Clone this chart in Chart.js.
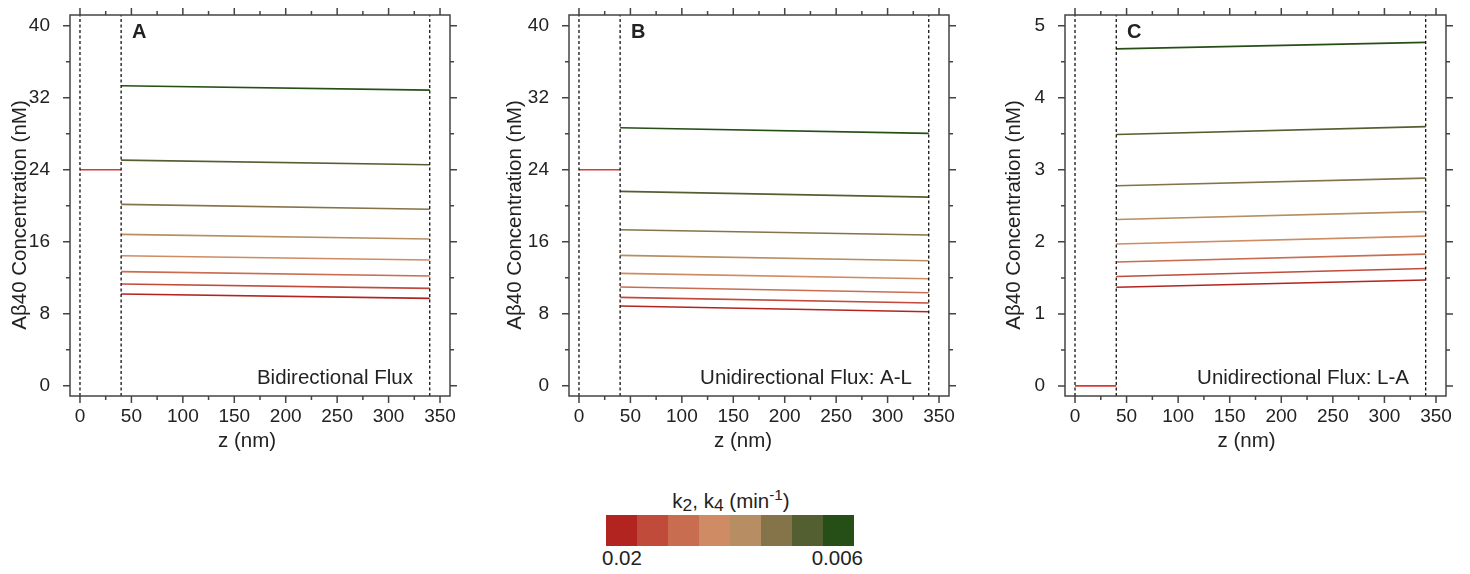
<!DOCTYPE html>
<html>
<head>
<meta charset="utf-8">
<script src="https://cdn.jsdelivr.net/npm/chart.js@4.4.1/dist/chart.umd.min.js"></script>
<style>
  body { margin: 0; background: #fff; width: 1470px; height: 574px; position: relative; overflow: hidden;
         font-family: "Liberation Sans", Arial, sans-serif; color: #222; }
  .panel { position: absolute; top: 0; }
  #tituloBarra { position: absolute; left: 631px; width: 200px; top: 489px; text-align: center; font-size: 20.5px; line-height: 24px; }
  #tituloBarra sub { font-size: 0.85em; vertical-align: -0.2em; line-height: 0; }
  #tituloBarra sup { font-size: 0.75em; vertical-align: 0.55em; line-height: 0; }
  #barra { position: absolute; left: 606px; top: 515px; width: 248px; height: 31px; display: flex; }
  #barra div { flex: 1; }
  .etiquetaBarra { position: absolute; top: 546px; font-size: 20.5px; line-height: 24px; }
</style>
</head>
<body>
<canvas id="chartA" class="panel" width="470" height="460" style="left:0px"></canvas>
<canvas id="chartB" class="panel" width="470" height="460" style="left:499px"></canvas>
<canvas id="chartC" class="panel" width="471" height="460" style="left:995px"></canvas>

<div id="tituloBarra">k<sub>2</sub>, k<sub>4</sub> (min<sup>-1</sup>)</div>
<div id="barra"></div>
<div class="etiquetaBarra" id="kMin" style="left:602px">0.02</div>
<div class="etiquetaBarra" id="kMax" style="right:607px">0.006</div>

<script>
// Posiciones z (nm): espacio libre 0-40, perfil 40-340
const zEspacio = [0, 40];
const zPerfil = [40, 340];
const zLimites = [0, 40, 340];

// Ticks
const ticksZ = [0, 50, 100, 150, 200, 250, 300, 350];
const ticksMenoresZ = [0, 25, 50, 75, 100, 125, 150, 175, 200, 225, 250, 275, 300, 325, 350];
const ticksConcAB = [0, 8, 16, 24, 32, 40];
const ticksMenoresAB = [0, 4, 8, 12, 16, 20, 24, 28, 32, 36, 40];
const ticksConcC = [0, 1, 2, 3, 4, 5];
const ticksMenoresC = [0, 0.5, 1, 1.5, 2, 2.5, 3, 3.5, 4, 4.5, 5];

// Colores de k2, k4 (de 0.02 a 0.006)
const coloresK = ['#B22420', '#C04B3B', '#C96D50', '#CF8B64', '#B78E63', '#857349', '#545F31', '#264F18'];
const etiquetasK = ['0.02', '0.006'];

// Concentración (nM) en z = 40 y z = 340, de k = 0.02 a k = 0.006
const inicioA = [10.19, 11.3, 12.67, 14.44, 16.81, 20.15, 25.07, 33.33];
const finA = [9.7, 10.81, 12.19, 13.96, 16.3, 19.6, 24.56, 32.85];
const inicioB = [8.85, 9.81, 10.96, 12.48, 14.48, 17.33, 21.6, 28.67];
const finB = [8.22, 9.19, 10.33, 11.89, 13.89, 16.74, 20.96, 28.04];
const inicioC = [1.37, 1.52, 1.72, 1.97, 2.31, 2.78, 3.49, 4.68];
const finC = [1.47, 1.63, 1.83, 2.08, 2.42, 2.885, 3.6, 4.77];

// Concentración en el espacio libre (0-40 nm)
const espacioA = 24;
const espacioB = 24;
const espacioC = 0;

const fuente = '"Liberation Sans", Arial, sans-serif';

// Marco, ticks en los cuatro lados y textos
const marcoPlugin = {
    id: 'marco',
    afterDraw(chart, args, opts) {
        const { ctx, chartArea: a, scales: { x, y } } = chart;
        ctx.save();
        ctx.strokeStyle = '#444';
        ctx.lineWidth = 1.5;
        ctx.strokeRect(a.left, a.top, a.right - a.left, a.bottom - a.top);

        ctx.beginPath();
        ticksMenoresZ.forEach(v => {
            const px = x.getPixelForValue(v);
            const largo = ticksZ.includes(v) ? 7 : 4;
            ctx.moveTo(px, a.bottom); ctx.lineTo(px, a.bottom + largo);
            ctx.moveTo(px, a.top); ctx.lineTo(px, a.top - largo);
        });
        opts.menoresY.forEach(v => {
            const py = y.getPixelForValue(v);
            const largo = opts.mayoresY.includes(v) ? 7 : 4;
            ctx.moveTo(a.left, py); ctx.lineTo(a.left - largo, py);
            ctx.moveTo(a.right, py); ctx.lineTo(a.right + largo, py);
        });
        ctx.stroke();

        // Títulos de los ejes
        ctx.fillStyle = '#222';
        ctx.font = '20.5px ' + fuente;
        ctx.textAlign = 'center';
        ctx.textBaseline = 'middle';
        ctx.fillText('z (nm)', (a.left + a.right) / 2 + opts.ajusteX, 441);
        ctx.save();
        ctx.translate(a.left - opts.separacionY, 215);
        ctx.rotate(-Math.PI / 2);
        ctx.fillText('Aβ40 Concentration (nM)', 0, 0);
        ctx.restore();

        // Letra del panel y tipo de flujo
        ctx.font = 'bold 20px ' + fuente;
        ctx.textAlign = 'left';
        ctx.fillText(opts.letra, a.left + 62, a.top + 17);
        ctx.font = '20.5px ' + fuente;
        ctx.textAlign = 'right';
        ctx.fillText(opts.texto, a.right - 37, 378);
        ctx.restore();
    }
};

function crearPanel(id, inicio, fin, espacio, ticksY, menoresY, yMin, yMax, letra, texto, separacionY, ajusteX) {
    const datasets = [];

    // Líneas punteadas verticales
    zLimites.forEach(z => {
        datasets.push({
            data: [{ x: z, y: yMin }, { x: z, y: yMax }],
            borderColor: '#111',
            borderWidth: 1.3,
            borderDash: [3, 2.5],
            pointRadius: 0
        });
    });

    // Perfiles de concentración
    inicio.forEach((c, i) => {
        datasets.push({
            data: [{ x: zPerfil[0], y: c }, { x: zPerfil[1], y: fin[i] }],
            borderColor: coloresK[i],
            borderWidth: 1.6,
            pointRadius: 0
        });
    });

    // Espacio libre
    datasets.push({
        data: [{ x: zEspacio[0], y: espacio }, { x: zEspacio[1], y: espacio }],
        borderColor: '#D43A3A',
        borderWidth: 1.6,
        pointRadius: 0
    });

    return new Chart(document.getElementById(id), {
        type: 'line',
        data: { datasets },
        plugins: [marcoPlugin],
        options: {
            responsive: false,
            animation: false,
            devicePixelRatio: 1,
            layout: { padding: { top: 15, right: 20, left: 0, bottom: 0 } },
            plugins: {
                legend: { display: false },
                tooltip: { enabled: false },
                marco: { letra, texto, menoresY, mayoresY: ticksY, separacionY, ajusteX }
            },
            scales: {
                x: {
                    type: 'linear',
                    min: -9.7,
                    max: 359.7,
                    afterBuildTicks: s => { s.ticks = ticksZ.map(v => ({ value: v })); },
                    afterFit: s => { s.height = 64; s.paddingLeft = 0; s.paddingRight = 0; },
                    grid: { display: false, drawTicks: false },
                    border: { display: false },
                    ticks: { padding: 9, color: '#222', font: { family: fuente, size: 19 } }
                },
                y: {
                    type: 'linear',
                    min: yMin,
                    max: yMax,
                    afterBuildTicks: s => { s.ticks = ticksY.map(v => ({ value: v })); },
                    afterFit: s => { s.width = 70; s.paddingTop = 0; s.paddingBottom = 0; },
                    grid: { display: false, drawTicks: false },
                    border: { display: false },
                    ticks: { padding: 20, color: '#222', font: { family: fuente, size: 19 } }
                }
            }
        }
    });
}

crearPanel('chartA', inicioA, finA, espacioA, ticksConcAB, ticksMenoresAB, -1.15, 41.2, 'A', 'Bidirectional Flux', 50, -13);
crearPanel('chartB', inicioB, finB, espacioB, ticksConcAB, ticksMenoresAB, -1.15, 41.2, 'B', 'Unidirectional Flux: A-L', 53.5, -16);
crearPanel('chartC', inicioC, finC, espacioC, ticksConcC, ticksMenoresC, -0.14, 5.15, 'C', 'Unidirectional Flux: L-A', 51, -9);

// Barra de colores
const barra = document.getElementById('barra');
coloresK.forEach(c => {
    const celda = document.createElement('div');
    celda.style.background = c;
    barra.appendChild(celda);
});
document.getElementById('kMin').textContent = etiquetasK[0];
document.getElementById('kMax').textContent = etiquetasK[1];
</script>
</body>
</html>
